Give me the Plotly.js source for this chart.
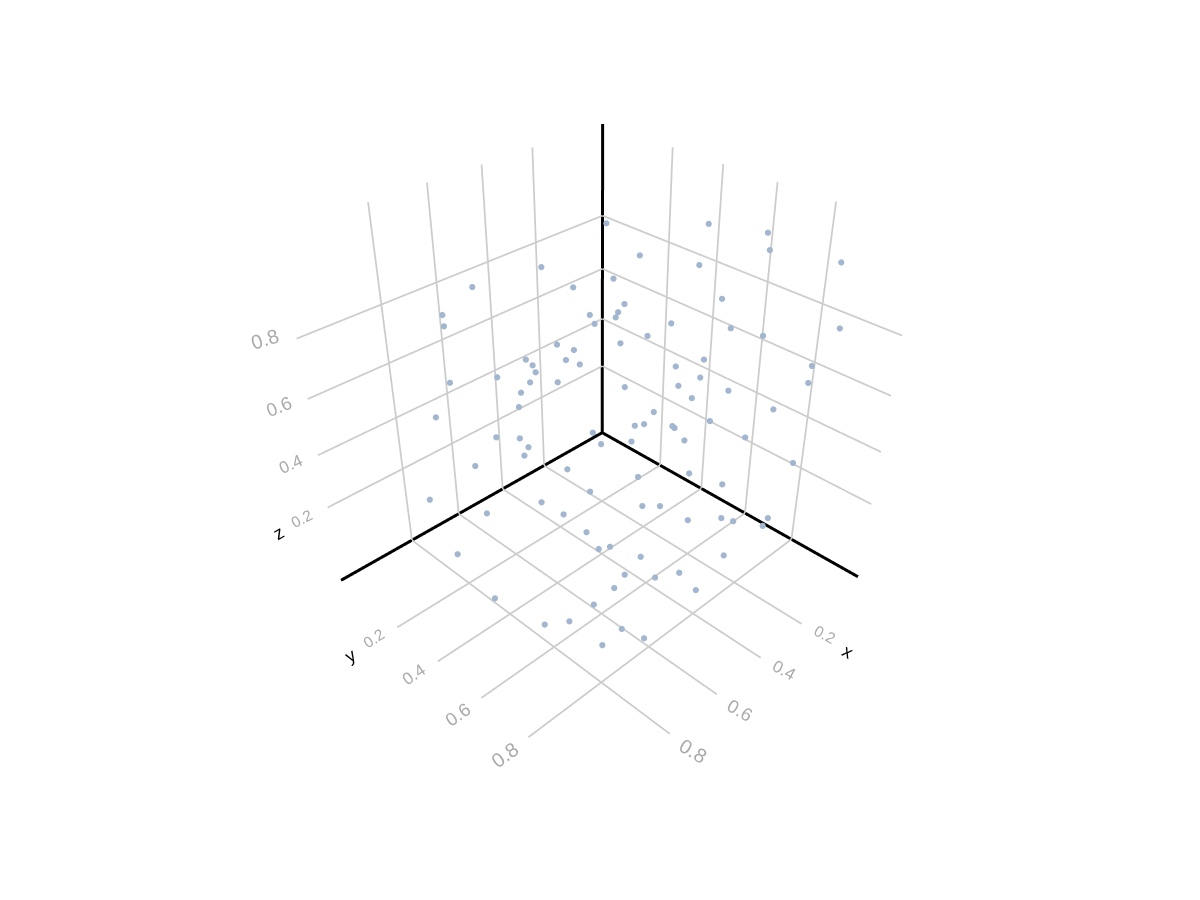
<!DOCTYPE html>
<html><head><meta charset="utf-8"><script src="https://cdn.plot.ly/plotly-3.0.1.min.js"></script>
<style>html,body{margin:0;background:#fff}#c{width:1200px;height:900px}</style></head>
<body><div id="c"></div><script>
const xs=[0.124,0.422,0.662,0.366,0.244,0.285,0.306,0.318,0.366,0.366,0.795,0.811,0.360,0.521,0.478,0.639,0.519,0.628,0.482,0.630,0.828,0.736,0.662,0.579,0.427,0.688,0.694,0.860,0.524,0.746,0.696,0.678,0.688,0.793,0.528,0.624,0.641,0.888,0.719,0.802,
0.715,0.720,0.736,0.705,0.901,0.710,0.761,0.925,0.830,0.910,0.880,0.801,0.878,0.021,-0.015,0.029,0.168,0.133,-0.008,0.187,0.281,0.239,0.324,0.226,0.055,0.319,0.110,0.353,0.340,0.114,0.378,0.285,0.353,0.418,0.187,0.317,0.448,0.433,0.385,0.381,0.243,0.362,0.453,0.126,0.494,0.350,0.282,0.539,0.487,0.429,0.317,0.283,0.172,0.189,0.635,0.374,0.627,0.546,0.521,0.750];
const ys=[0.141,0.172,0.152,0.246,0.291,0.377,0.372,0.374,0.315,0.335,0.185,0.210,0.435,0.340,0.364,0.340,0.374,0.355,0.392,0.369,0.237,0.330,0.381,0.403,0.519,0.371,0.366,0.199,0.487,0.321,0.365,0.380,0.372,0.274,0.525,0.484,0.595,0.164,0.475,0.324,
0.563,0.661,0.725,0.738,0.297,0.800,0.810,0.493,0.801,0.689,0.757,0.879,0.882,0.459,0.646,0.690,0.325,0.525,0.900,0.658,0.557,0.736,0.507,0.836,0.963,0.714,0.926,0.643,0.722,0.924,0.677,0.780,0.707,0.625,0.868,0.748,0.581,0.603,0.668,0.673,0.821,0.696,0.574,0.915,0.641,0.711,0.783,0.702,0.723,0.781,0.816,0.835,0.881,0.877,0.789,0.879,0.838,0.857,0.901,0.915];
const zs=[0.919,0.884,0.899,0.824,0.825,0.787,0.766,0.754,0.758,0.736,0.874,0.855,0.708,0.731,0.705,0.731,0.693,0.714,0.670,0.698,0.693,0.711,0.684,0.657,0.624,0.657,0.609,0.574,0.496,0.508,0.501,0.468,0.439,0.405,0.476,0.414,0.402,0.271,0.340,0.260,
0.343,0.338,0.325,0.322,0.144,0.261,0.251,0.111,0.230,0.132,0.171,0.172,0.168,0.984,1.004,0.979,0.887,0.912,1.000,0.872,0.791,0.829,0.747,0.840,0.845,0.753,0.733,0.715,0.707,0.678,0.677,0.665,0.638,0.583,0.597,0.562,0.529,0.538,0.539,0.533,0.504,0.491,0.472,0.400,0.400,0.373,0.334,0.352,0.334,0.281,0.244,0.223,0.197,0.174,0.273,0.171,0.221,0.199,0.144,0.125];
const tickValues=[0.2,0.4,0.6,0.8];
const tickLabels=['0.2','0.4','0.6','0.8'];
const xEnds=[-0.102,1.081],yEnds=[-0.102,1.066],zEnds=[-0.103,1.118];
const tickSizes=[15.5,17,18.5,20];
const zAngles=[-27,-24,-22,-18],yAngles=[-33,-34,-35,-36],xAngles=[28,29,30,31];
const floorLift=[0.014,0.010,0,0],wallLift=[0.007,0.014,0.018,0.035];
const ax={showline:false,zeroline:false,showbackground:false,showgrid:false,showticklabels:false,ticks:'',showspikes:false,title:{text:''}};
const lines=(segs,color,width)=>{const X=[],Y=[],Z=[];segs.forEach(s=>{X.push(s[0][0],s[1][0],null);Y.push(s[0][1],s[1][1],null);Z.push(s[0][2],s[1][2],null)});return {type:'scatter3d',mode:'lines',x:X,y:Y,z:Z,connectgaps:false,line:{color,width},hoverinfo:'skip',showlegend:false}};
const [x0,x1]=xEnds,[y0,y1]=yEnds,[z0,z1]=zEnds;
const grid=[];
tickValues.forEach(t=>{grid.push([[t,y0,z0],[t,y1,z0]],[[t,y0,z0],[t,y0,z1]],[[x0,t,z0],[x1,t,z0]],[[x0,t,z0],[x0,t,z1]],[[x0,y0,t],[x1,y0,t]],[[x0,y0,t],[x0,y1,t]])});
const ann=[];
const A=(x,y,z,text,size,angle,color)=>ann.push({x,y,z,text,showarrow:false,textangle:angle,font:{size,color,family:'Liberation Sans'},xanchor:'center',yanchor:'middle'});
tickValues.forEach((t,i)=>{
 A(t,y1+0.085,z0+floorLift[i],tickLabels[i],tickSizes[i],xAngles[i],'#aaaaaa');
 A(x1+0.085,t,z0+floorLift[i],tickLabels[i],tickSizes[i],yAngles[i],'#aaaaaa');
 A(x1+0.09,y0,t+wallLift[i],tickLabels[i],tickSizes[i],zAngles[i],'#aaaaaa');
});
A(0.2,y1+0.17,z0,'x',18,30,'#000');A(x1+0.17,0.2,z0,'y',18,-30,'#000');A(x1+0.17,y0,0.2,'z',18,-30,'#000');
const layout={width:1200,height:900,margin:{l:0,r:0,t:0,b:0},paper_bgcolor:'#fff',showlegend:false,
 scene:{annotations:ann,aspectmode:'manual',aspectratio:{x:1.1136,y:1.0973,z:0.9646},
  xaxis:{...ax,range:[-0.108,1.291]},yaxis:{...ax,range:[-0.108,1.281]},zaxis:{...ax,range:[-0.116,1.124]},
  camera:{eye:{x:1.3848,y:1.3834,z:1.3952},center:{x:-0.0812,y:-0.0826,z:-0.0708}}}};
Plotly.newPlot('c',[
 lines(grid,'#cccccc',3.5),
 lines([[[x0,y0,z0],[x1,y0,z0]],[[x0,y0,z0],[x0,y1,z0]],[[x0,y0,z0],[x0,y0,z1]]],'#000',6),
 {type:'scatter3d',mode:'markers',x:xs,y:ys,z:zs,marker:{size:3.6,color:'#a2b6cf'},hoverinfo:'skip',showlegend:false}
],layout,{displayModeBar:false});
</script></body></html>
